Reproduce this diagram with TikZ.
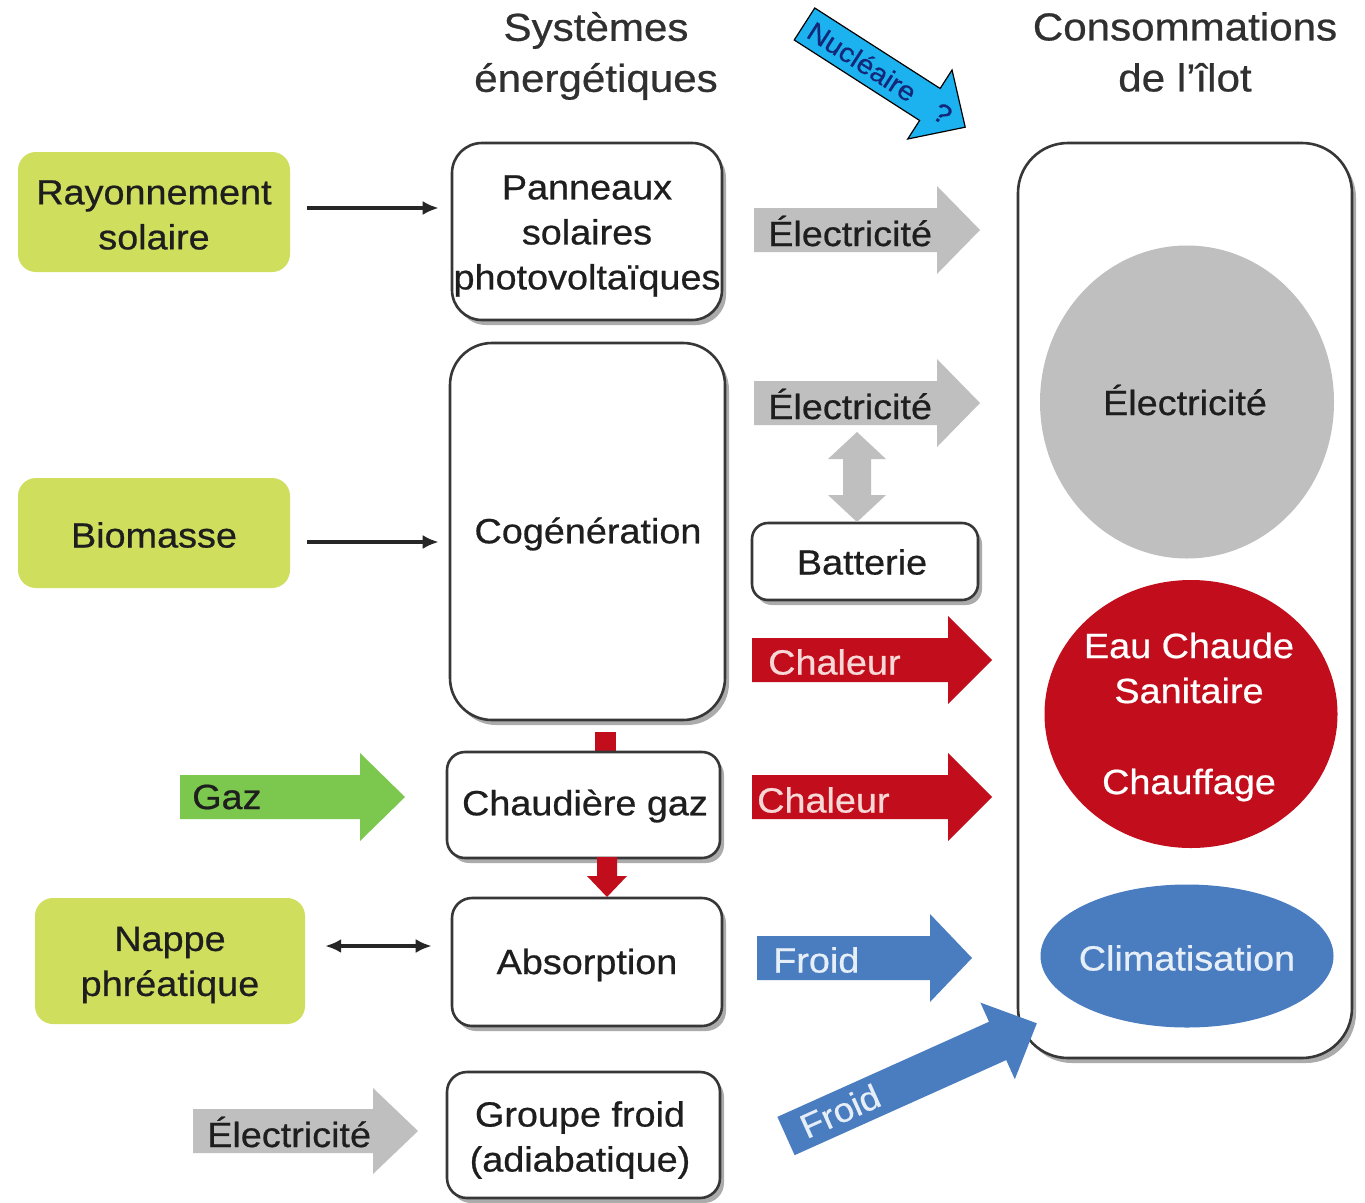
\documentclass[tikz,border=0pt]{standalone}
\usepackage{fontspec}
\setmainfont{Liberation Sans}[FakeStretch=1.08,FakeBold=0.6]
\usetikzlibrary{shapes.geometric,shadows,arrows.meta,calc}
\definecolor{srcgreen}{RGB}{207,222,92}
\definecolor{txtcol}{RGB}{30,30,30}
\definecolor{boxline}{RGB}{55,55,55}
\definecolor{elgray}{RGB}{191,191,191}
\definecolor{heatred}{RGB}{194,14,28}
\definecolor{heattxt}{RGB}{248,215,215}
\definecolor{coolblue}{RGB}{74,125,192}
\definecolor{cooltxt}{RGB}{230,238,248}
\definecolor{gazgreen}{RGB}{124,200,79}
\definecolor{nucblue}{RGB}{28,178,240}
\definecolor{nuctxt}{RGB}{20,40,122}
\definecolor{headcol}{RGB}{48,48,48}
\newcommand\myfs[2]{\fontsize{#1pt}{#2pt}\selectfont}
% #1 style, #2 tail centre, #3 angle, #4 length, #5 body half width, #6 head half width, #7 head length
\newcommand\blockarrow[7]{%
  \begin{scope}[shift={#2},rotate=#3]
    \path[#1] (0,-#5) -- (#4-#7,-#5) -- (#4-#7,-#6) -- (#4,0) -- (#4-#7,#6) -- (#4-#7,#5) -- (0,#5) -- cycle;
  \end{scope}}
\begin{document}
\begin{tikzpicture}[x=1pt,y=-1pt,
  txt/.style={font=\myfs{35}{45},text=txtcol,align=center,inner sep=0pt},
  src/.style={fill=srcgreen,rounded corners=18pt,minimum width=272pt,inner sep=0pt},
  sysbox/.style={draw=boxline,line width=2.6pt,fill=white,rounded corners=26pt,inner sep=0pt,
     drop shadow={shadow xshift=4pt,shadow yshift=-5pt,opacity=0.5,fill=black!65}},
  lbl/.style={anchor=west,inner sep=0pt,font=\myfs{35}{45},text=txtcol},
  conn/.style={line width=3.4pt,draw=black!85,-{Latex[length=16pt,width=14pt]}},
  connboth/.style={line width=3.4pt,draw=black!85,{Latex[length=16pt,width=14pt]}-{Latex[length=16pt,width=14pt]}},
  heading/.style={font=\myfs{39}{51},text=headcol,align=center}]
\useasboundingbox[fill=white] (0,0) rectangle (1365,1202);

% headings
\node[heading] (h1) at (596,56) {Systèmes\\énergétiques};
\node[heading] (h2) at (1185,52) {Consommations\\de l'îlot};

% sources
\node[src,minimum height=120pt] (ray) at (154,212) {};
\node[txt] (tray) at (154,215) {Rayonnement\\solaire};
\node[src,minimum height=110pt] (bio) at (154,533) {};
\node[txt] (tbio) at (154,535) {Biomasse};
\node[src,minimum width=270pt,minimum height=126pt] (nap) at (170,961) {};
\node[txt] (tnap) at (170,965) {Nappe\\phréatique};

% red stub between cogeneration and boiler
\fill[heatred] (595,732) rectangle (616,765);

% systems
\node[sysbox,minimum width=270pt,minimum height=177pt,rounded corners=30pt] (pan) at (587,231.5) {};
\node[txt] (tpan) at (587,236) {Panneaux\\solaires\\photovoltaïques};
\node[sysbox,minimum width=275pt,minimum height=377pt,rounded corners=42pt] (cog) at (587.5,531.5) {};
\node[txt] (tcog) at (588,534) {Cogénération};
\node[sysbox,minimum width=273pt,minimum height=106pt,rounded corners=18pt] (chd) at (583.5,805) {};
\node[txt] (tchd) at (585,806) {Chaudière gaz};
\node[sysbox,minimum width=270pt,minimum height=128pt,rounded corners=20pt] (abs) at (587,962) {};
\node[txt] (tabs) at (587,965) {Absorption};
\node[sysbox,minimum width=273pt,minimum height=126pt,rounded corners=20pt] (grp) at (583.5,1135) {};
\node[txt] (tgrp) at (580,1140) {Groupe froid\\(adiabatique)};
\node[sysbox,minimum width=226pt,minimum height=77pt,rounded corners=16pt] (bat) at (865,561.5) {};
\node[txt] (tbat) at (862,562) {Batterie};
\node[sysbox,minimum width=334pt,minimum height=915pt,rounded corners=50pt] (con) at (1185,600.5) {};

% consumption ellipses
\node[ellipse,fill=elgray,minimum width=294pt,minimum height=313pt,inner sep=0pt] (eel) at (1187,402) {};
\node[txt] (teel) at (1185,400) {Électricité};
\node[ellipse,fill=heatred,minimum width=293pt,minimum height=268pt,inner sep=0pt] (ecs) at (1191,714) {};
\node[txt,text=white] (tecs) at (1189,717) {Eau Chaude\\Sanitaire\\[46pt]Chauffage};
\node[ellipse,fill=coolblue,minimum width=293pt,minimum height=143pt,inner sep=0pt] (cli) at (1187,956) {};
\node[txt,text=cooltxt] (tcli) at (1187,958) {Climatisation};

% block arrows
\blockarrow{fill=elgray}{(754,230)}{0}{226}{22}{44}{43}
\blockarrow{fill=elgray}{(754,403)}{0}{226}{22}{44}{43}
\blockarrow{fill=heatred}{(752,660)}{0}{240}{22}{44}{44}
\blockarrow{fill=heatred}{(752,797)}{0}{240}{22}{44}{44}
\blockarrow{fill=coolblue}{(757,958)}{0}{215}{22}{44}{42}
\blockarrow{fill=gazgreen}{(180,797)}{0}{225}{22}{44}{45}
\blockarrow{fill=elgray}{(193,1131)}{0}{225}{22}{43}{45}
\blockarrow{fill=heatred}{(607,857)}{-90}{40}{10}{20}{21}
\blockarrow{fill=coolblue}{(786,1136)}{24.2}{275}{21}{42}{43}
\blockarrow{fill=nucblue,draw=black,line width=1.2pt}{(804.5,24)}{-32.7}{191}{19}{41}{42}
% battery double arrow
\fill[elgray] (857,432) -- (886,459) -- (871,459) -- (871,495) -- (886,495) -- (857,522)
  -- (828,495) -- (843,495) -- (843,459) -- (828,459) -- cycle;

% arrow labels
\node[lbl] (le1) at (768,231) {Électricité};
\node[lbl] (le2) at (768,404) {Électricité};
\node[lbl,text=heattxt] (lc1) at (768,662) {Chaleur};
\node[lbl,text=heattxt] (lc2) at (757,800) {Chaleur};
\node[lbl,text=cooltxt] (lf1) at (773,960) {Froid};
\node[lbl] (lg) at (192,797) {Gaz};
\node[lbl] (le3) at (207,1132) {Électricité};
\node[font=\myfs{34}{40},text=cooltxt,rotate=24.2] (lf2) at (840,1111) {Froid};
\node[font=\myfs{27}{30},text=nuctxt,rotate=-32.7,inner sep=0pt] (ln) at (880,73) {Nucléaire\hspace{26pt}?};

% connectors
\draw[conn,shorten <=17pt,shorten >=12pt] ($(ray.east)+(0,-4)$) -- ($(ray.east -| pan.west)+(0,-4)$);
\draw[conn,shorten <=17pt,shorten >=10pt] ($(bio.east)+(0,9)$) -- ($(bio.east -| cog.west)+(0,9)$);
\draw[connboth,shorten <=20pt,shorten >=19pt] ($(nap.east)+(0,-15)$) -- ($(nap.east -| abs.west)+(0,-15)$);
\end{tikzpicture}
\end{document}
